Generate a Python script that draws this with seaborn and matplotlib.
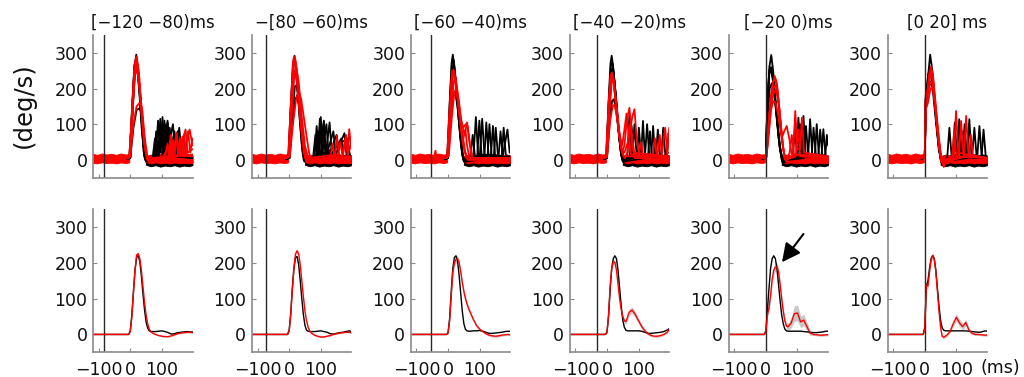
import numpy as np
import pandas as pd
import matplotlib
matplotlib.use("Agg")
import matplotlib.pyplot as plt
import seaborn as sns

# ---------------- text / layout data ----------------
TITLES = ["[\u2212120 \u221280)ms", "\u2212[80 \u221260)ms", "[\u221260 \u221240)ms",
          "[\u221240 \u221220)ms", "[\u221220 0)ms", "[0 20] ms"]
VLINE_X = [-82, -72, -53, -33, 0, 0]
X_TICKS = [-100, 0, 100]
Y_TICKS = [0, 100, 200, 300]

# ---------------- bottom row: mean traces ----------------
BOT_T = [-115, -60, -5, 0, 5, 10, 15, 20, 25, 30, 35, 40, 45, 50, 55, 60, 65, 70,
         80, 90, 100, 110, 120, 130, 140, 150, 160, 170, 180, 190, 197]

BLACK_MEAN_1 = [0, 0, 0, 10, 55, 120, 180, 215, 221, 205, 165, 115, 70, 35, 18, 10, 8, 8,
                8, 9, 10, 8, 5, 1, 2, 5, 6, 7, 8, 7, 7]
RED_MEAN_1 = [0, 0, 0, 8, 50, 115, 180, 222, 226, 212, 180, 135, 90, 55, 30, 15, 8, 4,
              0, -3, -5, -6, -6, -4, -1, 2, 4, 5, 6, 6, 5]
RED_SEM_1 = [1, 1, 1, 2, 3, 4, 4, 4, 4, 4, 4, 4, 3, 3, 3, 3, 2, 2,
             2, 2, 2, 2, 2, 2, 2, 2, 2, 2, 2, 2, 2]

BLACK_MEAN_2 = [0, 0, 0, 12, 60, 130, 185, 215, 218, 195, 150, 100, 55, 25, 12, 9, 8, 8,
                8, 9, 10, 8, 6, 2, 1, 3, 5, 6, 8, 10, 8]
RED_MEAN_2 = [0, 0, 0, 10, 55, 125, 185, 225, 234, 225, 195, 150, 105, 65, 38, 20, 10, 4,
              -2, -5, -7, -7, -5, -3, 0, 2, 4, 5, 6, 6, 5]
RED_SEM_2 = [1, 1, 1, 2, 3, 4, 5, 5, 5, 5, 4, 4, 4, 3, 3, 3, 2, 2,
             2, 2, 2, 2, 2, 2, 2, 2, 2, 2, 2, 2, 2]

BLACK_MEAN_3 = [0, 0, 0, 5, 45, 120, 185, 215, 220, 205, 165, 115, 65, 30, 14, 10, 9, 9,
                10, 10, 11, 9, 6, 3, 3, 4, 5, 6, 8, 9, 8]
RED_MEAN_3 = [0, 0, 0, 4, 40, 110, 175, 200, 210, 212, 200, 175, 145, 120, 100, 85, 72, 62,
              42, 25, 15, 8, 2, -2, -4, -5, -4, -2, -1, 0, -1]
RED_SEM_3 = [1, 1, 1, 3, 5, 8, 9, 9, 9, 9, 9, 8, 8, 8, 8, 7, 7, 6,
             5, 4, 4, 3, 3, 3, 3, 3, 3, 3, 3, 3, 3]

BLACK_MEAN_4 = [0, 0, 0, 6, 50, 125, 185, 212, 220, 212, 180, 130, 80, 40, 20, 12, 10, 10,
                10, 10, 10, 9, 6, 3, 3, 4, 5, 6, 8, 12, 16]
RED_MEAN_4 = [0, 0, 0, 6, 55, 135, 185, 203, 202, 180, 140, 100, 70, 50, 38, 36, 48, 62,
              68, 55, 38, 22, 10, 2, -3, -5, -5, -3, 0, 6, 14]
RED_SEM_4 = [1, 1, 1, 3, 5, 6, 6, 6, 6, 6, 6, 6, 6, 6, 6, 7, 8, 9,
             9, 8, 7, 6, 5, 4, 3, 3, 3, 3, 3, 4, 5]

BLACK_MEAN_5 = [0, 0, 0, 10, 70, 130, 185, 212, 220, 212, 185, 140, 95, 55, 30, 15, 10, 9,
                9, 9, 9, 9, 8, 7, 6, 5, 5, 6, 7, 9, 9]
RED_MEAN_5 = [0, 0, 0, 8, 55, 75, 110, 155, 180, 188, 189, 175, 140, 100, 65, 38, 24, 21,
              32, 58, 60, 35, 40, 22, 4, 0, -1, -2, -2, -1, -1]
RED_SEM_5 = [1, 1, 1, 4, 8, 10, 12, 12, 12, 12, 12, 12, 12, 12, 12, 10, 10, 10,
             14, 22, 22, 16, 16, 12, 6, 3, 3, 3, 3, 3, 3]

BLACK_MEAN_6 = [0, 0, 0, 20, 135, 150, 185, 212, 221, 212, 180, 130, 80, 40, 18, 12, 10, 10,
                10, 10, 10, 10, 10, 10, 9, 8, 7, 6, 7, 10, 9]
RED_MEAN_6 = [0, 0, 0, 15, 138, 135, 175, 210, 220, 210, 175, 120, 65, 20, -5, -8, -5, -2,
              8, 30, 48, 32, 22, 33, 12, 3, 0, 0, -1, -2, -2]
RED_SEM_6 = [1, 1, 1, 5, 10, 8, 8, 8, 8, 8, 8, 8, 6, 5, 4, 4, 4, 4,
             5, 8, 10, 10, 9, 9, 6, 4, 3, 3, 3, 3, 3]

BLACK_MEANS = [BLACK_MEAN_1, BLACK_MEAN_2, BLACK_MEAN_3, BLACK_MEAN_4, BLACK_MEAN_5, BLACK_MEAN_6]
RED_MEANS = [RED_MEAN_1, RED_MEAN_2, RED_MEAN_3, RED_MEAN_4, RED_MEAN_5, RED_MEAN_6]
RED_SEMS = [RED_SEM_1, RED_SEM_2, RED_SEM_3, RED_SEM_4, RED_SEM_5, RED_SEM_6]

# ---------------- top row: individual trials (t, deg/s) ----------------
PRE_T = [-118, -105, -90, -75, -60, -45, -30, -15, -3]
RED_PRE_LO = [-8, -10, -7, -9, -8, -10, -7, -9, -7]
RED_PRE_HI = [17, 14, 18, 15, 17, 14, 18, 15, 16]
POST_T = [50, 65, 80, 95, 110, 125, 140, 155, 170, 185, 197]
BLACK_POST_LO = [-14, -18, -15, -19, -16, -18, -15, -19, -16, -18, -15]
BLACK_POST_HI = [10, 14, 12, 16, 13, 15, 12, 16, 13, 15, 12]
RED_POST_LO = [-6, -10, -7, -10, -8, -10, -7, -10, -8, -10, -8]
RED_POST_HI = [10, 15, 12, 16, 13, 15, 12, 16, 13, 15, 12]

TOP1_BLACK = [
    [(-10, 3), (-3, 5), (5, 130), (13, 260), (19, 295), (26, 240), (34, 140), (42, 40), (48, 0), (75, 5), (82, 80), (88, 10), (95, 115), (102, 20), (110, 100), (117, 10), (197, 10)],
    [(-10, 3), (0, 5), (8, 140), (15, 250), (21, 270), (28, 200), (36, 90), (44, 10), (50, -5), (80, 5), (88, 110), (95, 20), (102, 120), (109, 15), (125, 90), (132, 10), (197, 5)],
    [(-10, 3), (0, 5), (10, 90), (20, 140), (30, 145), (38, 120), (45, 40), (52, 0), (90, 5), (98, 95), (105, 15), (118, 110), (125, 15), (140, 80), (147, 10), (197, 5)],
    [(-10, 3), (-2, 5), (6, 150), (13, 265), (20, 285), (27, 230), (35, 120), (43, 20), (50, -5), (70, 0), (78, 60), (84, 5), (110, 10), (118, 105), (126, 10), (150, 80), (158, 10), (168, 60), (175, 10), (197, 5)],
    [(-10, 3), (0, 5), (8, 160), (16, 270), (22, 260), (30, 180), (40, 60), (48, 0), (100, 5), (108, 110), (115, 10), (135, 100), (143, 15), (155, 90), (163, 20), (197, 10)],
]
TOP1_RED = [
    [(-10, 5), (-3, 10), (5, 120), (12, 240), (18, 285), (24, 260), (32, 170), (42, 60), (52, 5), (60, -5), (70, 5), (120, 10), (130, 60), (137, 15), (145, 70), (152, 10), (175, 85), (182, 20), (197, 30)],
    [(-10, 3), (-2, 8), (6, 130), (14, 255), (20, 275), (28, 220), (38, 110), (48, 25), (56, 0), (100, 5), (125, 40), (132, 5), (150, 10), (158, 60), (166, 10), (188, 85), (197, 40)],
    [(-10, 5), (0, 15), (8, 150), (15, 240), (22, 250), (30, 200), (40, 100), (50, 20), (58, 0), (140, 10), (147, 75), (154, 20), (170, 70), (178, 15), (197, 10)],
    [(-10, 5), (0, 10), (10, 100), (20, 150), (30, 160), (38, 140), (46, 60), (54, 10), (62, 0), (110, 5), (118, 45), (125, 5), (135, 55), (142, 10), (197, 15)],
    [(-10, 5), (-4, 5), (4, 90), (12, 220), (18, 265), (25, 245), (34, 160), (44, 50), (54, 0), (64, -8), (160, 15), (165, 65), (172, 10), (183, 80), (190, 20), (197, 60)],
    [(-10, 5), (-2, 10), (7, 160), (14, 270), (20, 290), (27, 250), (36, 140), (46, 40), (55, 0), (120, 5), (128, 70), (135, 12), (197, 10)],
]

TOP2_BLACK = [
    [(-10, 3), (-3, 5), (5, 150), (12, 270), (17, 292), (24, 230), (32, 130), (40, 40), (46, 0), (80, 5), (87, 95), (94, 15), (100, 120), (107, 20), (197, 5)],
    [(-10, 3), (0, 5), (10, 110), (20, 170), (26, 182), (34, 140), (42, 60), (50, 5), (90, 5), (97, 115), (104, 15), (118, 100), (125, 10), (150, 70), (157, 10), (197, 5)],
    [(-10, 3), (-2, 5), (6, 160), (13, 265), (19, 275), (26, 210), (34, 110), (42, 25), (48, -5), (75, 0), (83, 70), (90, 10), (110, 110), (117, 10), (140, 80), (147, 15), (175, 75), (182, 10), (197, 10)],
    [(-10, 3), (0, 5), (8, 150), (16, 250), (22, 240), (30, 170), (40, 70), (48, 5), (100, 5), (108, 90), (115, 10), (128, 105), (135, 15), (165, 60), (172, 10), (197, 10)],
    [(-10, 3), (2, 5), (10, 120), (18, 205), (24, 210), (32, 150), (42, 50), (50, 0), (85, 5), (92, 80), (99, 10), (185, 60), (192, 15), (197, 10)],
]
TOP2_RED = [
    [(-10, 5), (-3, 8), (5, 150), (12, 270), (17, 290), (24, 250), (32, 160), (42, 60), (52, 5), (60, -5), (145, 10), (151, 68), (158, 10), (197, 10)],
    [(-10, 5), (-1, 10), (8, 170), (15, 275), (20, 280), (27, 230), (36, 130), (46, 40), (56, 0), (170, 10), (178, 55), (185, 15), (190, 86), (197, 30)],
    [(-10, 5), (2, 10), (12, 100), (22, 170), (30, 195), (38, 170), (48, 110), (56, 60), (64, 15), (72, 0), (130, 5), (137, 45), (144, 10), (197, 5)],
    [(-10, 5), (0, 10), (8, 120), (16, 240), (22, 260), (30, 220), (40, 120), (50, 40), (60, 5), (155, 15), (162, 50), (168, 15), (180, 70), (187, 20), (197, 45)],
    [(-10, 5), (-2, 8), (6, 160), (14, 285), (19, 270), (26, 200), (36, 100), (46, 20), (54, -5), (197, 5)],
]

TOP3_BLACK = [
    [(-10, 3), (-3, 5), (5, 160), (11, 270), (15, 295), (21, 250), (30, 150), (40, 50), (48, 0), (80, 5), (88, 120), (95, 15), (125, 10), (131, 100), (138, 10), (197, 5)],
    [(-10, 3), (-1, 5), (7, 150), (14, 260), (19, 265), (26, 200), (35, 100), (44, 20), (50, -5), (100, 5), (108, 115), (115, 15), (145, 10), (151, 90), (158, 10), (197, 5)],
    [(-10, 3), (0, 5), (9, 120), (16, 180), (22, 190), (30, 150), (40, 60), (48, 5), (70, 0), (78, 70), (85, 10), (115, 10), (121, 105), (128, 15), (170, 10), (176, 90), (183, 10), (197, 10)],
    [(-10, 3), (-2, 5), (6, 170), (13, 280), (18, 280), (25, 220), (34, 120), (43, 30), (50, 0), (92, 5), (99, 110), (106, 15), (160, 10), (166, 80), (173, 10), (188, 85), (195, 20), (197, 20)],
    [(-10, 3), (0, 5), (8, 140), (15, 240), (21, 245), (28, 190), (38, 90), (46, 10), (52, -5), (135, 5), (142, 95), (149, 10), (197, 5)],
]
TOP3_RED = [
    [(-10, 5), (-3, 8), (5, 140), (12, 240), (16, 250), (22, 230), (30, 170), (40, 90), (50, 30), (58, 5), (66, 0), (197, 5)],
    [(-10, 5), (-1, 10), (8, 160), (15, 245), (20, 240), (28, 190), (38, 120), (48, 90), (56, 100), (62, 95), (70, 40), (78, 5), (197, 5)],
    [(-10, 5), (0, 10), (10, 130), (18, 220), (24, 230), (32, 180), (42, 110), (52, 70), (60, 105), (66, 60), (74, 10), (82, 0), (197, 5)],
    [(-50, 5), (-44, 8), (-40, 26), (-36, 5), (-10, 5), (2, 10), (12, 120), (20, 190), (26, 200), (34, 160), (44, 80), (54, 25), (62, 0), (197, 5)],
    [(-10, 5), (-2, 8), (6, 150), (13, 250), (18, 252), (26, 210), (36, 130), (46, 50), (55, 85), (60, 40), (68, 5), (197, 5)],
]

TOP4_BLACK = [
    [(-10, 3), (-3, 5), (5, 160), (11, 270), (15, 292), (21, 250), (30, 150), (40, 50), (48, 0), (64, 5), (71, 123), (78, 10), (108, 10), (114, 109), (120, 10), (197, 5)],
    [(-10, 3), (-1, 5), (7, 150), (14, 255), (19, 255), (27, 190), (36, 90), (45, 15), (52, -5), (80, 5), (87, 100), (94, 10), (140, 10), (146, 95), (152, 10), (197, 5)],
    [(-10, 3), (0, 5), (9, 110), (16, 165), (22, 170), (30, 130), (40, 55), (48, 5), (95, 5), (101, 90), (108, 10), (172, 10), (178, 90), (185, 10), (197, 5)],
    [(-10, 3), (-2, 5), (6, 170), (13, 270), (18, 270), (25, 210), (34, 110), (43, 25), (50, -5), (120, 5), (127, 100), (134, 10), (155, 10), (161, 85), (168, 10), (190, 10), (195, 75), (197, 60)],
    [(-10, 3), (0, 5), (8, 140), (15, 240), (21, 240), (28, 180), (38, 80), (46, 10), (54, -5), (72, 5), (78, 95), (85, 10), (130, 10), (136, 80), (142, 10), (197, 10)],
]
TOP4_RED = [
    [(-10, 5), (-3, 8), (5, 150), (11, 235), (15, 245), (22, 210), (30, 140), (40, 60), (48, 20), (55, 40), (63, 110), (71, 146), (78, 80), (86, 20), (197, 10)],
    [(-10, 5), (-1, 8), (7, 150), (14, 240), (19, 235), (27, 170), (36, 90), (45, 30), (55, 20), (70, 60), (80, 120), (87, 142), (94, 60), (102, 10), (190, 10), (195, 60), (197, 90)],
    [(-10, 5), (0, 8), (10, 110), (18, 150), (24, 155), (32, 120), (40, 70), (48, 40), (56, 90), (62, 130), (69, 70), (76, 15), (145, 10), (152, 60), (158, 10), (197, 5)],
    [(-10, 5), (-2, 8), (6, 160), (13, 240), (18, 240), (26, 180), (35, 100), (44, 35), (52, 10), (100, 10), (108, 50), (114, 10), (160, 10), (167, 70), (174, 15), (184, 90), (191, 20), (197, 20)],
    [(-10, 5), (0, 8), (8, 140), (16, 230), (21, 225), (29, 160), (39, 80), (48, 25), (56, 5), (65, 20), (73, 100), (80, 40), (88, 5), (197, 5)],
]

TOP5_BLACK = [
    [(-10, 3), (0, 8), (5, 150), (11, 260), (17, 294), (23, 250), (31, 160), (41, 60), (50, 0), (96, 5), (103, 118), (110, 10), (155, 10), (161, 100), (168, 10), (197, 5)],
    [(-10, 3), (0, 8), (4, 130), (10, 240), (16, 255), (23, 230), (32, 150), (42, 50), (52, -5), (112, 5), (119, 123), (126, 10), (176, 10), (182, 86), (189, 10), (197, 10)],
    [(-10, 3), (0, 8), (5, 170), (11, 250), (16, 260), (24, 220), (33, 130), (43, 40), (53, -5), (85, 5), (92, 90), (99, 10), (134, 10), (140, 114), (147, 15), (197, 10)],
    [(-10, 3), (0, 8), (4, 100), (12, 200), (19, 215), (27, 190), (36, 110), (46, 30), (55, -5), (120, 5), (127, 95), (134, 10), (166, 10), (172, 85), (179, 10), (188, 10), (193, 70), (197, 40)],
    [(-10, 3), (0, 8), (5, 160), (12, 255), (18, 245), (26, 200), (35, 110), (45, 25), (54, -8), (100, 5), (108, 100), (115, 10), (145, 10), (151, 90), (158, 15), (197, 10)],
]
TOP5_RED = [
    [(-10, 5), (0, 8), (6, 60), (14, 150), (22, 215), (28, 235), (35, 215), (43, 140), (52, 50), (60, 5), (66, -5), (197, 5)],
    [(-10, 5), (2, 8), (8, 80), (16, 160), (24, 200), (31, 210), (38, 180), (46, 110), (55, 30), (62, 0), (86, 10), (93, 137), (100, 30), (108, 30), (114, 118), (121, 20), (197, 10)],
    [(-10, 5), (1, 8), (8, 70), (16, 140), (24, 165), (31, 160), (40, 120), (50, 60), (58, 80), (66, 95), (74, 60), (82, 15), (197, 10)],
    [(-10, 5), (0, 8), (7, 90), (15, 175), (23, 220), (30, 225), (37, 195), (45, 120), (54, 35), (62, 0), (95, 10), (102, 85), (109, 10), (197, 5)],
    [(-10, 5), (2, 8), (9, 70), (17, 150), (25, 190), (32, 195), (40, 160), (48, 90), (57, 20), (64, -5), (75, 20), (82, 70), (89, 15), (197, 5)],
]

TOP6_BLACK = [
    [(-10, 3), (0, 10), (3, 170), (10, 230), (17, 295), (24, 250), (32, 160), (42, 60), (50, 0), (102, 5), (109, 114), (116, 10), (197, 5)],
    [(-10, 3), (0, 10), (3, 150), (10, 220), (17, 260), (24, 240), (33, 150), (43, 50), (52, -5), (134, 5), (141, 114), (148, 10), (197, 5)],
    [(-10, 3), (0, 10), (3, 180), (10, 215), (18, 240), (26, 210), (35, 120), (45, 30), (54, -5), (71, 5), (78, 90), (85, 10), (166, 5), (173, 95), (180, 10), (197, 10)],
    [(-10, 3), (0, 10), (3, 160), (10, 210), (18, 220), (26, 190), (35, 110), (45, 25), (54, -8), (88, 5), (95, 105), (102, 10), (120, 10), (126, 100), (133, 10), (150, 10), (157, 90), (164, 10), (197, 10)],
    [(-10, 3), (0, 10), (3, 170), (11, 240), (17, 255), (25, 230), (34, 140), (44, 40), (52, -5), (115, 5), (121, 80), (128, 10), (180, 10), (186, 85), (193, 10), (197, 10)],
]
TOP6_RED = [
    [(-10, 5), (0, 10), (3, 170), (9, 200), (15, 245), (20, 262), (27, 230), (36, 140), (45, 50), (53, 0), (60, -15), (70, 0), (92, 10), (99, 137), (106, 20), (197, 5)],
    [(-10, 5), (0, 10), (3, 150), (9, 175), (16, 230), (22, 240), (30, 190), (40, 100), (50, 20), (58, -10), (124, 10), (131, 123), (138, 15), (197, 5)],
    [(-10, 5), (0, 10), (3, 160), (9, 190), (17, 215), (24, 220), (32, 160), (42, 70), (52, 5), (60, -20), (72, 0), (108, 10), (115, 109), (122, 15), (197, 5)],
    [(-10, 5), (0, 10), (3, 140), (10, 160), (18, 200), (25, 205), (33, 150), (43, 60), (52, 0), (86, 5), (93, 80), (100, 10), (197, 5)],
    [(-10, 5), (0, 10), (3, 165), (8, 185), (14, 235), (19, 250), (26, 220), (35, 130), (44, 40), (52, -5), (140, 10), (146, 70), (152, 10), (197, 5)],
]

TOP_BLACK = [TOP1_BLACK, TOP2_BLACK, TOP3_BLACK, TOP4_BLACK, TOP5_BLACK, TOP6_BLACK]
TOP_RED = [TOP1_RED, TOP2_RED, TOP3_RED, TOP4_RED, TOP5_RED, TOP6_RED]

# ---------------- build long tables ----------------
rows = []
for p in range(6):
    for color, traces in (("black", TOP_BLACK[p]), ("red", TOP_RED[p])):
        for i, tr in enumerate(traces):
            for t, v in tr:
                rows.append((p, color, f"{color}{i}", t, v))
top_df = pd.DataFrame(rows, columns=["panel", "color", "trace", "t", "v"])

rows = []
for p in range(6):
    for t, b, r, s in zip(BOT_T, BLACK_MEANS[p], RED_MEANS[p], RED_SEMS[p]):
        rows.append((p, "black", t, b, 0))
        rows.append((p, "red", t, r, s))
bot_df = pd.DataFrame(rows, columns=["panel", "series", "t", "v", "err"])

# ---------------- style ----------------
sns.set_theme(style="ticks")
plt.rcParams["font.family"] = ["DejaVu Sans"]
plt.rcParams["axes.unicode_minus"] = True
SPINE = "#8a8a8a"
FS_TICK = 12.5
FS_TITLE = 12.0

fig = plt.figure(figsize=(10.24, 3.77), dpi=100)
W, H = 1024.0, 377.0
lefts = [93 + 158.9 * i for i in range(6)]
aw = 99.5
top_y0, top_y1 = 35.0, 177.7
bot_y0, bot_y1 = 209.3, 352.3
XLIM = (-118, 197)
YLIM = (-50, 350)


def style_axis(ax, show_xlabels):
    ax.set_xlim(*XLIM)
    ax.set_ylim(*YLIM)
    ax.set_xticks(X_TICKS)
    ax.set_yticks(Y_TICKS)
    for s in ("top", "right"):
        ax.spines[s].set_visible(False)
    for s in ("left", "bottom"):
        ax.spines[s].set_color(SPINE)
        ax.spines[s].set_linewidth(1.2)
    ax.tick_params(direction="in", length=3, width=0.8, color=SPINE,
                   labelsize=FS_TICK, labelcolor="#111111")
    ax.tick_params(axis="y", pad=4)
    ax.tick_params(axis="x", pad=6, labelbottom=show_xlabels)
    ax.set_xlabel("")
    ax.set_ylabel("")


for p in range(6):
    # ----- top row -----
    ax = fig.add_axes([lefts[p] / W, 1 - top_y1 / H, aw / W, (top_y1 - top_y0) / H])
    ax.fill_between(POST_T, BLACK_POST_LO, BLACK_POST_HI, color="black", lw=0.6)
    sns.lineplot(data=top_df[(top_df.panel == p) & (top_df.color == "black")],
                 x="t", y="v", units="trace", estimator=None, sort=False,
                 color="black", lw=1.3, ax=ax, legend=False)
    ax.fill_between(PRE_T, RED_PRE_LO, RED_PRE_HI, color="red", lw=0.6)
    ax.fill_between(POST_T, RED_POST_LO, RED_POST_HI, color="red", lw=0.6)
    sns.lineplot(data=top_df[(top_df.panel == p) & (top_df.color == "red")],
                 x="t", y="v", units="trace", estimator=None, sort=False,
                 color="red", lw=1.3, ax=ax, legend=False)
    ax.axvline(VLINE_X[p], color="#2a2a2a", lw=1.0)
    style_axis(ax, False)
    ax.set_title(TITLES[p], fontsize=FS_TITLE, pad=5, color="#111111", x=0.6)

    # ----- bottom row -----
    axb = fig.add_axes([lefts[p] / W, 1 - bot_y1 / H, aw / W, (bot_y1 - bot_y0) / H])
    sub = bot_df[bot_df.panel == p]
    red = sub[sub.series == "red"]
    axb.fill_between(red["t"], red["v"] - red["err"], red["v"] + red["err"],
                     color="#c8c8c8", lw=0)
    axb.axvline(VLINE_X[p], color="#2a2a2a", lw=1.0)
    sns.lineplot(data=sub, x="t", y="v", hue="series", hue_order=["black", "red"],
                 palette={"black": "black", "red": "red"}, estimator=None,
                 lw=1.0, ax=axb, legend=False)
    style_axis(axb, True)
    if p == 4:
        axb.annotate("", xy=(51, 202), xytext=(119, 281),
                     arrowprops=dict(arrowstyle="-|>,head_length=0.8,head_width=0.4",
                                     color="black", lw=1.5, mutation_scale=14,
                                     shrinkA=0, shrinkB=0))

fig.text(24 / W, 1 - 105 / H, "(deg/s)", rotation=90, ha="center", va="center",
         fontsize=17.5, color="#111111")
fig.text(981 / W, 1 - 368 / H, "(ms)", ha="left", va="center", fontsize=FS_TICK,
         color="#111111")

fig.savefig("out.png", dpi=100)
